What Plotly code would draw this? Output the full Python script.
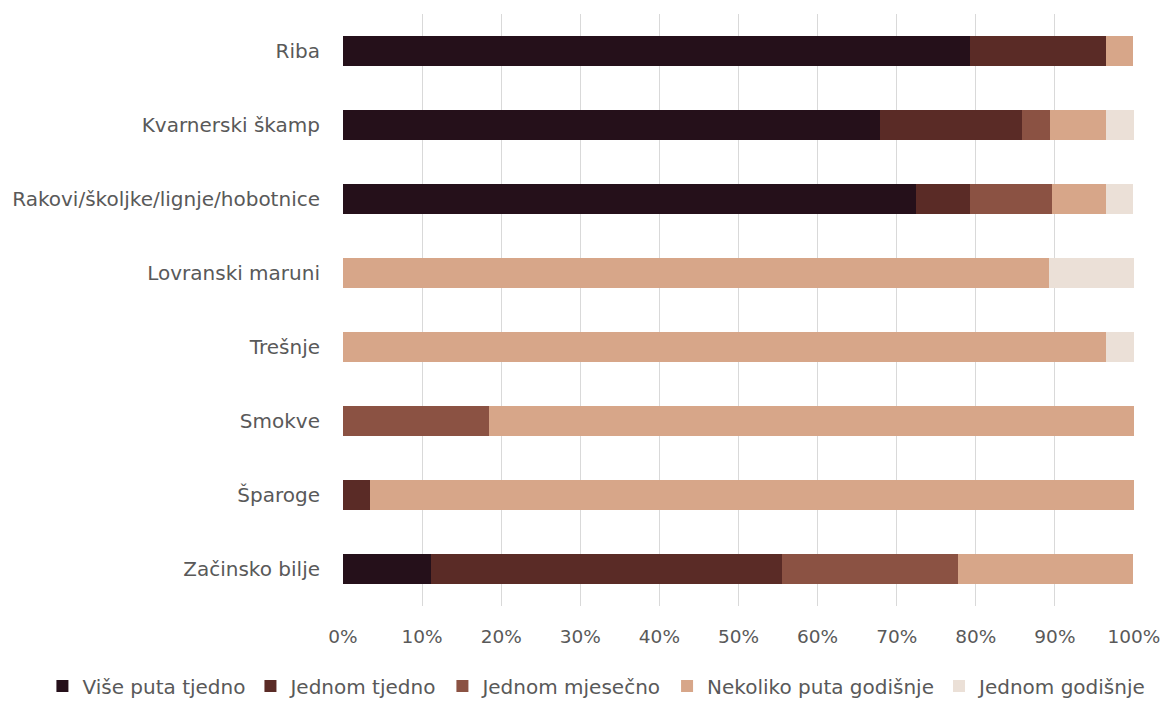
import plotly.graph_objects as go

# Products (top to bottom)
products = [
    "Riba",
    "Kvarnerski škamp",
    "Rakovi/školjke/lignje/hobotnice",
    "Lovranski maruni",
    "Trešnje",
    "Smokve",
    "Šparoge",
    "Začinsko bilje",
]

# Share of respondents (%) per consumption frequency
vise_puta_tjedno = [79.3, 67.9, 72.4, 0, 0, 0, 0, 11.1]
jednom_tjedno = [17.2, 17.9, 6.9, 0, 0, 0, 3.4, 44.4]
jednom_mjesecno = [0, 3.6, 10.3, 0, 0, 18.5, 0, 22.2]
nekoliko_puta_godisnje = [3.4, 7.1, 6.9, 89.3, 96.5, 81.5, 96.6, 22.2]
jednom_godisnje = [0, 3.6, 3.4, 10.7, 3.5, 0, 0, 0]

series = [
    ("Više puta tjedno", vise_puta_tjedno, "#25101a"),
    ("Jednom tjedno", jednom_tjedno, "#5a2b26"),
    ("Jednom mjesečno", jednom_mjesecno, "#8b5243"),
    ("Nekoliko puta godišnje", nekoliko_puta_godisnje, "#d7a689"),
    ("Jednom godišnje", jednom_godisnje, "#ebe0d7"),
]

tick_vals = list(range(0, 101, 10))
tick_text = [f"{v}%" for v in tick_vals]

fig = go.Figure()
for name, vals, color in series:
    fig.add_trace(go.Bar(
        name=name,
        y=products,
        x=vals,
        orientation="h",
        marker=dict(color=color, line=dict(width=0)),
        hoverinfo="skip",
    ))

font_family = "DejaVu Sans, sans-serif"
text_color = "#595959"
fig.update_layout(
    barmode="stack",
    bargap=0.6,
    width=1164,
    height=718,
    paper_bgcolor="white",
    plot_bgcolor="white",
    margin=dict(l=343, r=30, t=14, b=112),
    font=dict(family=font_family, size=19, color=text_color),
    xaxis=dict(
        range=[0, 100],
        tickvals=tick_vals,
        ticktext=tick_text,
        showgrid=True,
        gridcolor="#d9d9d9",
        gridwidth=1,
        zeroline=False,
        showline=False,
        ticks="",
        automargin=False,
        ticklabelstandoff=17,
        tickfont=dict(size=18.5, color=text_color),
    ),
    yaxis=dict(
        categoryorder="array",
        categoryarray=products,
        autorange="reversed",
        showgrid=False,
        zeroline=False,
        showline=False,
        ticks="",
        automargin=False,
        ticklabelstandoff=22,
        tickfont=dict(size=20, color=text_color),
    ),
    legend=dict(
        orientation="h",
        x=-0.38,
        xanchor="left",
        y=-0.168,
        yanchor="bottom",
        bgcolor="rgba(0,0,0,0)",
        font=dict(size=20, color=text_color),
        itemwidth=30,
        traceorder="normal",
    ),
)

fig.write_html("out.html")
